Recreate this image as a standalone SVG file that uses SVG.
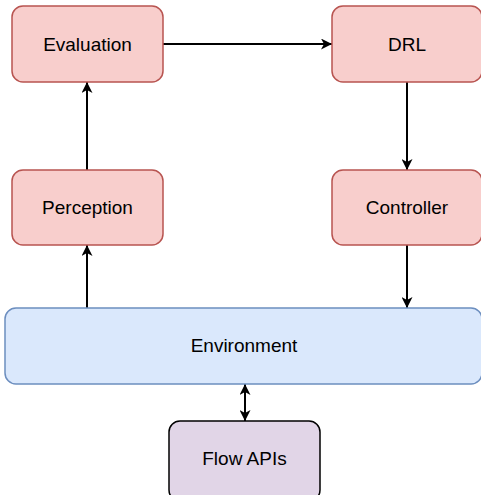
<svg xmlns="http://www.w3.org/2000/svg" width="481" height="495" viewBox="0 0 481 495">
<style>
.red{fill:#f8cecc;stroke:#b85450;stroke-width:1.5}
.blue{fill:#dae8fc;stroke:#6c8ebf;stroke-width:1.5}
.purple{fill:#e1d5e7;stroke:#000;stroke-width:1.5}
text{font-family:"Liberation Sans",Arial,sans-serif;font-size:19px;fill:#000;text-anchor:middle;dominant-baseline:central}
.edge{stroke:#000;stroke-width:2;fill:none}
</style>
<defs>
<marker id="ah" viewBox="0 0 11 11" refX="11" refY="5.5" markerWidth="11" markerHeight="11" markerUnits="userSpaceOnUse" orient="auto-start-reverse">
<path d="M0,0 L11,5.5 L0,11 L3,5.5 Z" fill="#000"/>
</marker>
</defs>
<rect width="481" height="495" fill="#fff"/>
<g id="connectors">
<path class="edge" d="M163,44 L332,44" marker-end="url(#ah)"/>
<path class="edge" d="M407,82 L407,170" marker-end="url(#ah)"/>
<path class="edge" d="M407,245 L407,308" marker-end="url(#ah)"/>
<path class="edge" d="M87,308 L87,245" marker-end="url(#ah)"/>
<path class="edge" d="M87,170 L87,82" marker-end="url(#ah)"/>
<path class="edge" d="M245,384 L245,421" marker-start="url(#ah)" marker-end="url(#ah)"/>
</g>
<g id="evaluation"><rect class="red" x="12" y="6" width="151" height="76" rx="11"/><text x="87.5" y="44">Evaluation</text></g>
<g id="drl"><rect class="red" x="332" y="6" width="150" height="76" rx="11"/><text x="407" y="44">DRL</text></g>
<g id="perception"><rect class="red" x="12" y="170" width="151" height="75" rx="11"/><text x="87.5" y="207">Perception</text></g>
<g id="controller"><rect class="red" x="332" y="170" width="150" height="75" rx="11"/><text x="407" y="207">Controller</text></g>
<g id="environment"><rect class="blue" x="5" y="308" width="477" height="76" rx="11"/><text x="244" y="345">Environment</text></g>
<g id="flowapis"><rect class="purple" x="169" y="421" width="151" height="80" rx="11"/><text x="244.5" y="458">Flow APIs</text></g>
</svg>
